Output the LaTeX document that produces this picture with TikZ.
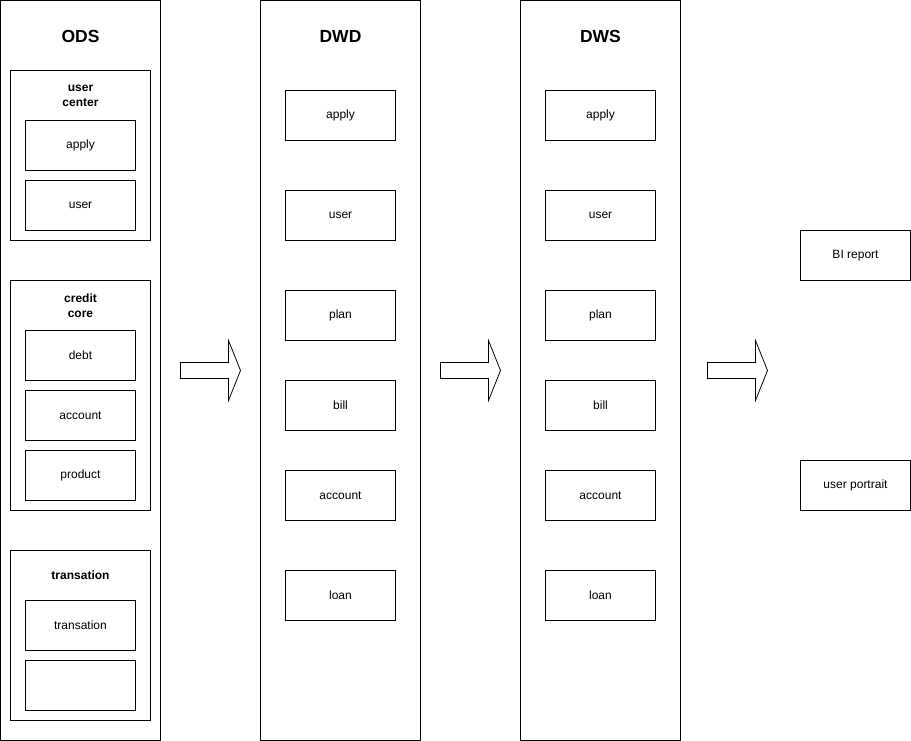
\documentclass[tikz,border=0pt]{standalone}
\usepackage{fontspec}
\setmainfont{Liberation Sans}
\begin{document}
\begin{tikzpicture}[x=1pt,y=-1pt,line width=1pt,
  col/.style={draw,minimum width=160pt,minimum height=740pt,anchor=north west,inner sep=0pt},
  grp/.style={draw,minimum width=140pt,anchor=north west,inner sep=0pt},
  tbl/.style={draw,minimum width=110pt,minimum height=50pt,anchor=north west,inner sep=0pt,font=\fontsize{12}{14}\selectfont},
  ttl/.style={font=\fontsize{17.5}{20}\selectfont\bfseries},
  gttl/.style={font=\fontsize{12}{15}\selectfont\bfseries,align=center},
  bigarrow/.style={draw,fill=white,line width=0.8pt}]
\useasboundingbox (0,0) rectangle (911,741);
% columns
\node[col] (ods) at (0,0) {};
\node[col] (dwd) at (260,0) {};
\node[col] (dws) at (520,0) {};
\node[ttl] (odsT) at (80.5,36) {ODS};
\node[ttl] (dwdT) at (340.5,36) {DWD};
\node[ttl] (dwsT) at (600.5,36) {DWS};
% ODS groups
\node[grp,minimum height=170pt] (g1) at (10,70) {};
\node[gttl] (g1t) at (80.5,95.5) {user\\center};
\node[tbl] (o1) at (25,120) {};
\node at (o1.center) {\fontsize{12}{14}\selectfont apply};
\node[tbl] (o2) at (25,180) {};
\node at (o2.center) {\fontsize{12}{14}\selectfont user};
\node[grp,minimum height=230pt] (g2) at (10,280) {};
\node[gttl] (g2t) at (80.5,305.5) {credit\\core};
\node[tbl] (o3) at (25,330) {};
\node at (o3.center) {\fontsize{12}{14}\selectfont debt};
\node[tbl] (o4) at (25,390) {};
\node at (o4.center) {\fontsize{12}{14}\selectfont account};
\node[tbl] (o5) at (25,450) {};
\node at (o5.center) {\fontsize{12}{14}\selectfont product};
\node[grp,minimum height=170pt] (g3) at (10,550) {};
\node[gttl] (g3t) at (80.5,575.5) {transation};
\node[tbl] (o6) at (25,600) {};
\node at (o6.center) {\fontsize{12}{14}\selectfont transation};
\node[tbl] (o7) at (25,660) {};
% DWD / DWS tables
\foreach \c/\x in {dwd/285,dws/545}{
  \foreach \n/\y/\t in {a/90/apply,b/190/user,c/290/plan,d/380/bill,e/470/account,f/570/loan}{
    \node[tbl] (\c\n) at (\x,\y) {};
    \node at (\c\n.center) {\fontsize{12}{14}\selectfont \t};
  }
}
% outputs
\node[tbl] (bi) at (800,230) {};
\node at (bi.center) {\fontsize{12}{14}\selectfont BI report};
\node[tbl] (up) at (800,460) {};
\node at (up.center) {\fontsize{12}{14}\selectfont user portrait};
% big arrows
\foreach \x in {180.5,440.5,707.5}{
  \draw[bigarrow] (\x,362.5) -- ++(48,0) -- ++(0,-22) -- ++(12,30) -- ++(-12,30) -- ++(0,-22) -- ++(-48,0) -- cycle;
}
\end{tikzpicture}
\end{document}
